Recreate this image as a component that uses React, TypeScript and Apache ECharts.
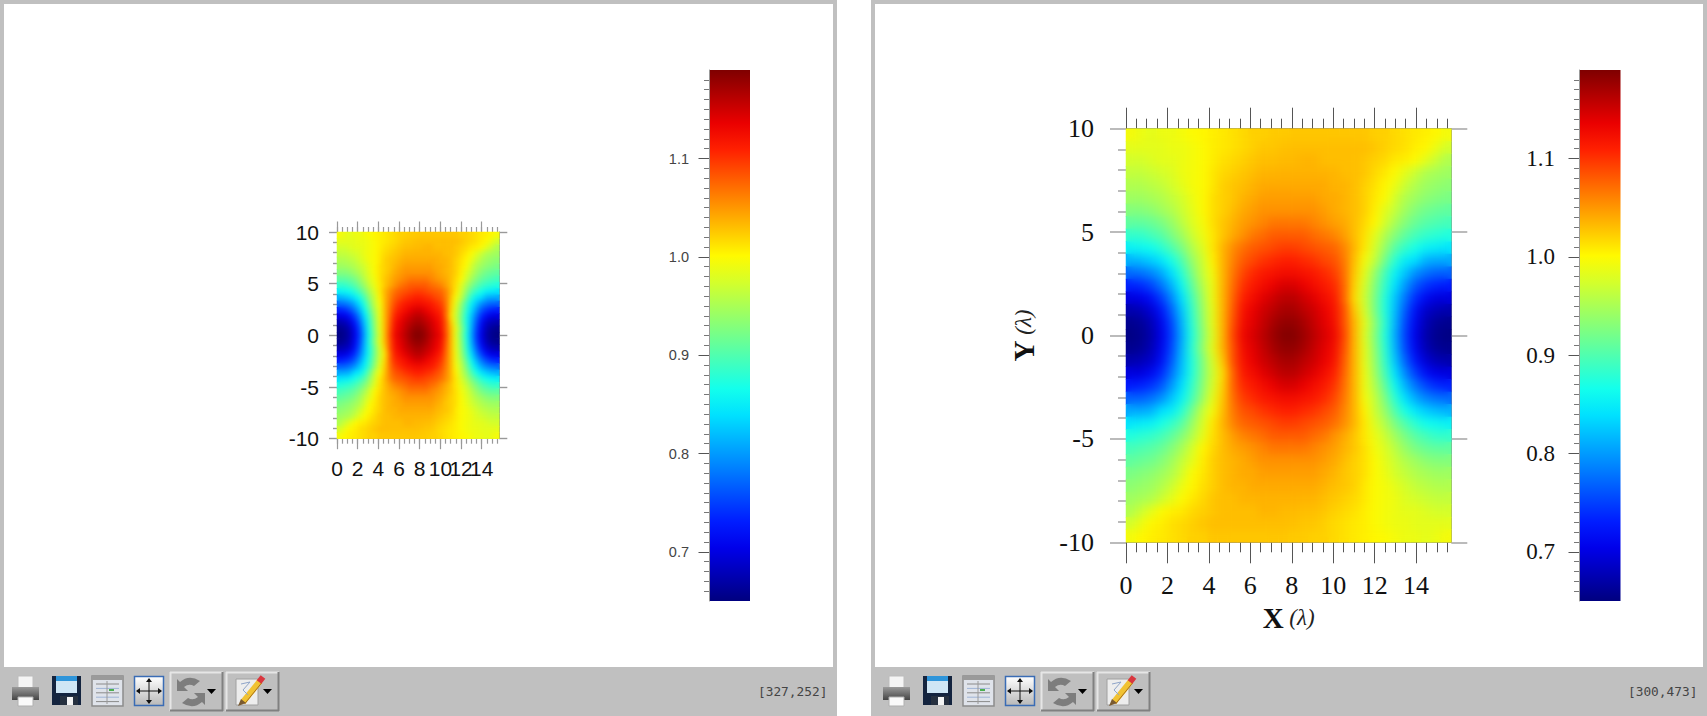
import React, { useEffect, useRef } from "react";
import * as echarts from "echarts";

const xMajorTicks = [0, 2, 4, 6, 8, 10, 12, 14];
const xSmallLabelsA = [0, 4, 8, 12];
const xSmallLabelsB = [2, 6, 10, 14];
const xMinorStep = 0.5;
const xLastMinor = 15.5;
const yMajorTicks = [-10, -5, 0, 5, 10];
const yMinorTicks = [-9, -8, -7, -6, -4, -3, -2, -1, 1, 2, 3, 4, 6, 7, 8, 9];
const barMajorTicks = [0.7, 0.8, 0.9, 1.0, 1.1];
const barMinorTicks = [0.66, 0.67, 0.68, 0.69, 0.71, 0.72, 0.73, 0.74, 0.75, 0.76, 0.77, 0.78, 0.79, 0.81, 0.82, 0.83, 0.84, 0.85, 0.86, 0.87, 0.88, 0.89, 0.91, 0.92, 0.93, 0.94, 0.95, 0.96, 0.97, 0.98, 0.99, 1.01, 1.02, 1.03, 1.04, 1.05, 1.06, 1.07, 1.08, 1.09, 1.11, 1.12, 1.13, 1.14, 1.15, 1.16, 1.17, 1.18];
const xMax = 15.7;
const yLimit = 10;
const valueMin = 0.652;
const valueMax = 1.19;
const leftCursor = "[327,252]";
const rightCursor = "[300,473]";

const jetColors = ["#00007F", "#0000B5", "#0000EA", "#001DFF", "#004EFF", "#0080FF", "#00B0FF", "#00E1FF", "#13FFEC", "#43FFBC", "#74FF8B", "#A4FF5B", "#D4FF2B", "#FFFA00", "#FFC300", "#FF8D00", "#FF5700", "#FF2000", "#EA0000", "#B50000", "#7F0000"];

// field: rows from y = +10 down to y = -10, columns from x = 0 to x = 15.7
const heatRows: number[][] = [
  [.995, .99, .985, .99, .99, .995, 1.0, 1.003, 1.007, 1.01, 1.014, 1.018, 1.022, 1.022, 1.025, 1.025, 1.027, 1.027, 1.027, 1.027, 1.027, 1.027, 1.027, 1.027, 1.022, 1.022, 1.018, 1.014, 1.01, 1.007, 1.003, .995],
  [.985, .985, .985, .985, .99, .99, .995, 1.0, 1.007, 1.01, 1.014, 1.018, 1.022, 1.027, 1.027, 1.03, 1.031, 1.031, 1.031, 1.031, 1.031, 1.031, 1.031, 1.031, 1.027, 1.022, 1.018, 1.014, 1.007, 1.003, .99, .975],
  [.975, .975, .98, .985, .985, .99, .995, 1.0, 1.007, 1.014, 1.018, 1.022, 1.027, 1.031, 1.031, 1.033, 1.033, 1.036, 1.036, 1.031, 1.031, 1.031, 1.031, 1.027, 1.022, 1.018, 1.01, 1.007, 1.0, .985, .97, .955],
  [.965, .965, .97, .975, .98, .99, .995, 1.0, 1.01, 1.018, 1.022, 1.027, 1.031, 1.036, 1.036, 1.037, 1.037, 1.037, 1.037, 1.036, 1.036, 1.031, 1.031, 1.027, 1.018, 1.01, 1.0, .985, .97, .955, .95, .945],
  [.955, .955, .96, .965, .975, .985, .995, 1.0, 1.01, 1.022, 1.027, 1.031, 1.036, 1.041, 1.041, 1.041, 1.041, 1.041, 1.041, 1.041, 1.036, 1.036, 1.031, 1.022, 1.014, 1.003, .99, .97, .955, .945, .94, .935],
  [.945, .945, .95, .955, .965, .975, .99, 1.0, 1.014, 1.022, 1.027, 1.036, 1.041, 1.047, 1.047, 1.047, 1.047, 1.047, 1.047, 1.041, 1.041, 1.036, 1.031, 1.022, 1.01, 1.0, .975, .955, .945, .935, .93, .925],
  [.93, .93, .935, .945, .955, .97, .985, 1.0, 1.014, 1.022, 1.031, 1.041, 1.047, 1.053, 1.053, 1.053, 1.053, 1.053, 1.053, 1.047, 1.041, 1.036, 1.031, 1.022, 1.007, .985, .965, .945, .93, .92, .915, .91],
  [.91, .91, .915, .925, .94, .96, .98, .995, 1.014, 1.027, 1.036, 1.047, 1.053, 1.06, 1.066, 1.066, 1.066, 1.066, 1.06, 1.053, 1.047, 1.041, 1.031, 1.018, 1.003, .975, .95, .93, .915, .905, .90, .895],
  [.885, .885, .895, .905, .925, .945, .97, .99, 1.01, 1.027, 1.041, 1.053, 1.066, 1.072, 1.08, 1.08, 1.08, 1.08, 1.072, 1.066, 1.06, 1.047, 1.031, 1.014, .985, .955, .93, .91, .895, .885, .88, .875],
  [.855, .86, .865, .88, .90, .925, .955, .98, 1.01, 1.035, 1.055, 1.07, 1.08, 1.085, 1.09, 1.095, 1.095, 1.09, 1.085, 1.08, 1.075, 1.06, 1.035, 1.01, .975, .94, .905, .885, .87, .855, .85, .845],
  [.815, .82, .83, .845, .87, .90, .94, .97, 1.005, 1.035, 1.06, 1.08, 1.09, 1.10, 1.105, 1.11, 1.11, 1.105, 1.10, 1.09, 1.085, 1.065, 1.03, .995, .965, .92, .88, .85, .84, .815, .81, .81],
  [.775, .78, .79, .81, .84, .88, .925, .965, .995, 1.035, 1.065, 1.09, 1.105, 1.115, 1.12, 1.125, 1.125, 1.12, 1.115, 1.105, 1.095, 1.07, 1.025, .985, .94, .895, .855, .825, .795, .78, .77, .77],
  [.735, .74, .755, .78, .815, .86, .91, .955, .99, 1.035, 1.07, 1.10, 1.115, 1.125, 1.135, 1.145, 1.145, 1.135, 1.125, 1.115, 1.105, 1.075, 1.02, .975, .93, .885, .84, .80, .765, .745, .735, .73],
  [.70, .705, .72, .75, .79, .84, .895, .945, .99, 1.035, 1.075, 1.11, 1.125, 1.14, 1.15, 1.16, 1.16, 1.15, 1.14, 1.125, 1.115, 1.075, 1.015, .97, .925, .875, .825, .78, .74, .715, .70, .70],
  [.675, .68, .695, .725, .77, .825, .885, .94, .985, 1.035, 1.08, 1.12, 1.135, 1.15, 1.16, 1.17, 1.17, 1.16, 1.15, 1.135, 1.12, 1.085, 1.025, .975, .925, .875, .82, .765, .72, .69, .68, .675],
  [.66, .665, .68, .71, .755, .815, .88, .935, .985, 1.035, 1.085, 1.125, 1.14, 1.155, 1.17, 1.18, 1.18, 1.17, 1.155, 1.14, 1.125, 1.085, 1.035, .985, .935, .88, .815, .755, .71, .68, .665, .66],
  [.655, .66, .675, .705, .75, .81, .875, .93, .98, 1.035, 1.09, 1.13, 1.145, 1.16, 1.175, 1.187, 1.187, 1.175, 1.16, 1.145, 1.13, 1.09, 1.035, .98, .93, .875, .81, .75, .705, .675, .66, .655],
  [.66, .665, .68, .71, .755, .815, .88, .935, .985, 1.035, 1.085, 1.125, 1.14, 1.155, 1.17, 1.18, 1.18, 1.17, 1.155, 1.14, 1.125, 1.085, 1.035, .985, .935, .88, .815, .755, .71, .68, .665, .66],
  [.675, .68, .69, .72, .765, .82, .875, .925, .975, 1.025, 1.085, 1.12, 1.135, 1.15, 1.16, 1.17, 1.17, 1.16, 1.15, 1.135, 1.12, 1.08, 1.035, .985, .94, .885, .825, .77, .725, .695, .68, .675],
  [.70, .70, .715, .74, .78, .825, .875, .925, .97, 1.015, 1.075, 1.115, 1.125, 1.14, 1.15, 1.16, 1.16, 1.15, 1.14, 1.125, 1.11, 1.075, 1.035, .99, .945, .895, .84, .79, .75, .72, .705, .70],
  [.73, .735, .745, .765, .80, .84, .885, .93, .975, 1.02, 1.075, 1.105, 1.115, 1.125, 1.135, 1.145, 1.145, 1.135, 1.125, 1.115, 1.10, 1.07, 1.035, .99, .955, .91, .86, .815, .78, .755, .74, .735],
  [.77, .77, .78, .795, .825, .855, .895, .94, .985, 1.025, 1.07, 1.095, 1.105, 1.115, 1.12, 1.125, 1.125, 1.12, 1.115, 1.105, 1.09, 1.065, 1.035, .995, .965, .925, .88, .84, .81, .79, .78, .775],
  [.81, .81, .815, .84, .85, .88, .92, .965, .995, 1.03, 1.065, 1.085, 1.09, 1.10, 1.105, 1.11, 1.11, 1.105, 1.10, 1.09, 1.08, 1.06, 1.035, 1.005, .97, .94, .90, .87, .845, .83, .82, .815],
  [.845, .85, .855, .87, .885, .905, .94, .975, 1.01, 1.035, 1.06, 1.075, 1.08, 1.085, 1.09, 1.095, 1.095, 1.09, 1.085, 1.08, 1.07, 1.055, 1.035, 1.01, .98, .955, .925, .90, .88, .865, .86, .855],
  [.875, .88, .885, .895, .91, .93, .955, .985, 1.014, 1.031, 1.047, 1.06, 1.066, 1.072, 1.08, 1.08, 1.08, 1.08, 1.072, 1.066, 1.053, 1.041, 1.027, 1.01, .99, .97, .945, .925, .905, .895, .885, .885],
  [.895, .90, .905, .915, .93, .95, .975, 1.003, 1.018, 1.031, 1.041, 1.047, 1.053, 1.06, 1.066, 1.066, 1.066, 1.066, 1.06, 1.053, 1.047, 1.036, 1.027, 1.014, .995, .98, .96, .94, .925, .915, .91, .91],
  [.91, .915, .92, .93, .945, .965, .985, 1.007, 1.022, 1.031, 1.036, 1.041, 1.047, 1.053, 1.053, 1.053, 1.053, 1.053, 1.053, 1.047, 1.041, 1.031, 1.022, 1.014, 1.0, .985, .97, .955, .945, .935, .93, .93],
  [.925, .93, .935, .945, .955, .975, 1.0, 1.01, 1.022, 1.031, 1.036, 1.041, 1.041, 1.047, 1.047, 1.047, 1.047, 1.047, 1.047, 1.041, 1.036, 1.027, 1.022, 1.014, 1.0, .99, .975, .965, .955, .95, .945, .945],
  [.935, .94, .945, .955, .97, .99, 1.003, 1.014, 1.022, 1.031, 1.036, 1.036, 1.041, 1.041, 1.041, 1.041, 1.041, 1.041, 1.041, 1.036, 1.031, 1.027, 1.022, 1.01, 1.0, .995, .985, .975, .965, .96, .955, .955],
  [.945, .95, .955, .97, .985, 1.0, 1.01, 1.018, 1.027, 1.031, 1.031, 1.036, 1.036, 1.037, 1.037, 1.037, 1.037, 1.036, 1.036, 1.031, 1.027, 1.022, 1.018, 1.01, 1.0, .995, .99, .98, .975, .97, .965, .965],
  [.955, .97, .985, 1.0, 1.007, 1.01, 1.018, 1.022, 1.027, 1.031, 1.031, 1.031, 1.031, 1.036, 1.036, 1.033, 1.033, 1.031, 1.031, 1.027, 1.022, 1.018, 1.014, 1.007, 1.0, .995, .99, .985, .985, .98, .975, .975],
  [.975, .99, 1.003, 1.007, 1.014, 1.018, 1.022, 1.027, 1.031, 1.031, 1.031, 1.031, 1.031, 1.031, 1.031, 1.031, 1.03, 1.027, 1.027, 1.022, 1.018, 1.014, 1.01, 1.007, 1.0, .995, .99, .99, .985, .985, .985, .985],
  [.995, 1.003, 1.007, 1.01, 1.014, 1.018, 1.022, 1.022, 1.027, 1.027, 1.027, 1.027, 1.027, 1.027, 1.027, 1.027, 1.025, 1.025, 1.022, 1.022, 1.018, 1.014, 1.01, 1.007, 1.003, 1.0, .995, .99, .99, .985, .99, .995],
];

const rowCount = heatRows.length;
const colNames = heatRows[0].map((_, i) => String(i));
const rowNames = heatRows.map((_, j) => String(j));
const heatCells: number[][] = [];
heatRows.forEach((row, j) => row.forEach((v, i) => heatCells.push([i, rowCount - 1 - j, v])));

const SERIF = '"Liberation Serif", serif';
const SANS = '"Liberation Sans", sans-serif';

const leftPlot = { left: 337, top: 232, width: 162.3, height: 206.7 };
const rightPlot = { left: 1126, top: 128.7, width: 325.3, height: 413.6 };
const leftBar = { left: 709, top: 70, width: 41, height: 531 };
const rightBar = { left: 1579, top: 70, width: 41.5, height: 531 };

echarts.graphic.registerShape(
  "syncArrows",
  echarts.graphic.extendPath("M0 2L0 14L11 14L7 10Q12 6 17 9L23 4Q12 -3 3 5Z M28 28L28 16L17 16L21 20Q16 24 11 21L5 26Q16 33 25 25Z", {}) as any
);

function plotAxes(big: boolean, gridIndex: number) {
  const labelFont = big ? SERIF : SANS;
  const fs = big ? 26 : 21;
  const xTick = big ? "#555" : "#999";
  const yTick = big ? "#aaa" : "#999";
  const yw = big ? 1.6 : 1.4;
  const xw = big ? 1 : 1.2;
  const k = big ? 2 : 1;
  const line = { show: true, onZero: false, lineStyle: { color: "#8a8a8a", width: 1 } };
  const base = { gridIndex, type: "value", splitLine: { show: false } };
  const X = { ...base, min: 0, max: xMax };
  const Y = { ...base, min: -yLimit, max: yLimit };
  const noLabel = { show: false };
  const lambda = "\u03BB";
  const rich = {
    a: { fontFamily: SERIF, fontSize: 29, color: "#111", fontWeight: "bold" },
    b: { fontFamily: SERIF, fontSize: 23, color: "#222", fontStyle: "italic" },
  };
  const xLabel = (values: number[]) => ({
    show: true, customValues: values, showMinLabel: true, showMaxLabel: true,
    margin: big ? 30 : 19, fontFamily: labelFont, fontSize: fs, color: "#111",
  });
  const xs: any[] = [
    {
      ...X, position: "bottom", axisLine: line,
      axisTick: { show: true, length: 10.5 * k, customValues: xMajorTicks, lineStyle: { color: xTick, width: xw } },
      axisLabel: xLabel(big ? xMajorTicks : xSmallLabelsA),
      ...(big ? { name: `{a|X}{b| (${lambda})}`, nameLocation: "middle", nameGap: 55, nameTextStyle: { rich } } : {}),
    },
    ...(big ? [] : [{ ...X, position: "bottom", axisLine: { show: false }, axisTick: { show: false }, axisLabel: xLabel(xSmallLabelsB) }]),
    { ...X, position: "top", axisLine: line, axisLabel: noLabel, axisTick: { show: true, length: 10.5 * k, customValues: xMajorTicks, lineStyle: { color: xTick, width: xw } } },
    { gridIndex, type: "category", show: false, data: colNames },
  ];
  const ys: any[] = [
    {
      ...Y, position: "left", axisLine: line,
      axisTick: { show: true, length: 8 * k, customValues: yMajorTicks, lineStyle: { color: yTick, width: yw } },
      axisLabel: { show: true, customValues: yMajorTicks, margin: big ? 32 : 18, fontFamily: labelFont, fontSize: fs, color: "#111" },
      ...(big ? { name: `{a|Y}{b| (${lambda})}`, nameLocation: "middle", nameGap: 88, nameRotate: 90, nameTextStyle: { rich } } : {}),
    },
    { ...Y, position: "left", axisLine: { show: false }, axisLabel: noLabel, axisTick: { show: true, length: 4 * k, customValues: yMinorTicks, lineStyle: { color: yTick, width: yw } } },
    { ...Y, position: "right", axisLine: line, axisLabel: noLabel, axisTick: { show: true, length: 8 * k, customValues: yMajorTicks, lineStyle: { color: yTick, width: yw } } },
    { ...Y, position: "right", axisLine: { show: false }, axisLabel: noLabel, axisTick: { show: true, length: 4 * k, customValues: yMinorTicks, lineStyle: { color: yTick, width: yw } } },
    { gridIndex, type: "category", show: false, data: rowNames },
  ];
  return { xs, ys };
}

function minorXAxes(big: boolean, gridIndex: number) {
  const base = {
    gridIndex, type: "value", min: 0, max: xLastMinor, interval: xMinorStep,
    splitLine: { show: false }, axisLine: { show: false }, axisLabel: { show: false },
    axisTick: { show: true, length: big ? 10 : 5, lineStyle: { color: big ? "#555" : "#999", width: big ? 1 : 1.2 } },
  };
  return {
    xs: [{ ...base, position: "bottom" }, { ...base, position: "top" }] as any[],
    ys: [{ gridIndex, type: "value", show: false, min: 0, max: 1 }] as any[],
  };
}

function barAxes(big: boolean, gridIndex: number) {
  const Y = { gridIndex, type: "value", min: 0.65, max: 1.19, position: "left", splitLine: { show: false } };
  const ys: any[] = [
    {
      ...Y,
      axisLine: { show: true, onZero: false, lineStyle: { color: "#999", width: 1 } },
      axisTick: { show: true, length: 10.5, customValues: barMajorTicks, lineStyle: { color: "#555", width: 1 } },
      axisLabel: {
        show: true, customValues: barMajorTicks, margin: big ? 24 : 20,
        formatter: (v: number) => v.toFixed(1),
        fontFamily: big ? SERIF : SANS, fontSize: big ? 23 : 14.5, color: big ? "#111" : "#444",
      },
    },
    { ...Y, axisLine: { show: false }, axisLabel: { show: false }, axisTick: { show: true, length: 5, customValues: barMinorTicks, lineStyle: { color: "#777", width: 1 } } },
  ];
  const xs: any[] = [{ gridIndex, type: "value", show: false, min: 0, max: 1 }];
  return { xs, ys };
}

function toolbarIcons(dx: number): any[] {
  const r = (x: number, y: number, w: number, h: number, fill: any, stroke?: string, lw = 1) =>
    ({ type: "rect", z: -5, silent: true, shape: { x: x + dx, y, width: w, height: h }, style: { fill, stroke: stroke || "none", lineWidth: lw } });
  const l = (x1: number, y1: number, x2: number, y2: number, stroke: string, lw = 1) =>
    ({ type: "line", z: -5, silent: true, shape: { x1: x1 + dx, y1, x2: x2 + dx, y2 }, style: { stroke, lineWidth: lw } });
  const p = (pts: number[][], fill: string) =>
    ({ type: "polygon", z: -5, silent: true, shape: { points: pts.map(([a, b]) => [a + dx, b]) }, style: { fill } });
  const vGrad = (a: string, b: string) => new echarts.graphic.LinearGradient(0, 0, 0, 1, [{ offset: 0, color: a }, { offset: 1, color: b }]);
  const out: any[] = [];
  // printer
  out.push(r(18, 676, 15, 12, "#f5f5f5", "#bdbdbd"));
  out.push(r(12, 687, 27, 13, vGrad("#9a9a9a", "#454545")));
  out.push(r(18, 697, 15, 9, "#fafafa", "#b0b0b0"));
  // floppy
  out.push(r(52, 676, 29, 29, "#14243f"));
  out.push(r(56, 676, 21, 5, "#2f95da"));
  out.push(r(56, 681, 21, 12, "#cfe6f5"));
  out.push(r(60, 696, 18, 9, "#26303f"));
  out.push(r(67, 697, 6, 8, "#f4f4f4"));
  // table
  out.push(r(92, 676, 31, 30, "#dfe3ea", "#8c8c8c", 1.5));
  out.push(r(92, 676, 31, 4, "#9a9a9a"));
  for (let i = 0; i < 5; i++) out.push(l(96, 684 + i * 4.4, 119, 684 + i * 4.4, i % 2 ? "#9fb4d6" : "#8a8a8a", 1));
  out.push(l(107, 681, 107, 704, "#9a9a9a", 1));
  out.push(r(109, 689, 5, 2, "#4caf50"));
  // fit-to-window arrows
  out.push(r(134.5, 676.5, 29, 29, vGrad("#ffffff", "#b8b8b8"), "#3a6cb5", 1.5));
  out.push(l(137, 691, 161, 691, "#111", 1));
  out.push(l(149, 679, 149, 703, "#111", 1));
  out.push(p([[136, 691], [140, 688], [140, 694]], "#111"));
  out.push(p([[162, 691], [158, 688], [158, 694]], "#111"));
  out.push(p([[149, 678], [146, 682], [152, 682]], "#111"));
  out.push(p([[149, 704], [146, 700], [152, 700]], "#111"));
  // raised buttons
  [[170, 53], [226, 53]].forEach(([x, w]) => {
    out.push(r(x, 672, w, 39, "#bfbfbf"));
    out.push(l(x, 672.5, x + w, 672.5, "#e6e6e6", 2));
    out.push(l(x + 0.5, 672, x + 0.5, 711, "#e6e6e6", 2));
    out.push(l(x, 710.5, x + w, 710.5, "#808080", 2));
    out.push(l(x + w - 0.5, 672, x + w - 0.5, 711, "#808080", 2));
  });
  out.push({ type: "syncArrows", z: -4, silent: true, x: 177 + dx, y: 677, style: { fill: "#7d7d7d" } });
  out.push(p([[207, 689], [216, 689], [211.5, 694]], "#000"));
  // pencil and page
  out.push(r(236, 679, 22, 26, "#ededed", "#a0a0a0"));
  out.push({ type: "polyline", z: -4, silent: true, shape: { points: [[241 + dx, 684], [250 + dx, 682], [243 + dx, 690], [248 + dx, 695]] }, style: { stroke: "#8ea4c8", lineWidth: 1, fill: "none" } });
  out.push(l(243, 702, 260, 681, "#f1c232", 6));
  out.push(l(244.5, 704, 261.5, 683, "#a8701a", 1));
  out.push(p([[238, 706], [241, 699], [246, 703]], "#7a5a30"));
  out.push(l(259, 682, 263, 677, "#d9363e", 6));
  out.push(p([[263, 689], [272, 689], [267.5, 694]], "#000"));
  return out;
}

function colorBar(bar: typeof leftBar): any {
  const last = jetColors.length - 1;
  return {
    type: "rect", z: -3, silent: true,
    shape: { x: bar.left, y: bar.top, width: bar.width, height: bar.height },
    style: {
      fill: new echarts.graphic.LinearGradient(0, 1, 0, 0, jetColors.map((color, i) => ({ offset: i / last, color }))),
    },
  };
}

function panel(x: number, width: number, cursor: string): any[] {
  return [
    { type: "rect", z: -9, silent: true, shape: { x, y: 0, width, height: 716 }, style: { fill: "#c0c0c0" } },
    { type: "rect", z: -8, silent: true, shape: { x: x + 4, y: 4, width: width - 8, height: 663 }, style: { fill: "#ffffff" } },
    ...toolbarIcons(x),
    { type: "text", z: -4, silent: true, x: x + width - 79, y: 685, style: { text: cursor, font: '12.8px "DejaVu Sans Mono", monospace', fill: "#444" } },
  ];
}

function buildMainOption() {
  const minorWidth = (w: number) => (w * xLastMinor) / xMax;
  const grids = [
    leftPlot, leftBar, rightPlot, rightBar,
    { ...leftPlot, width: minorWidth(leftPlot.width) },
    { ...rightPlot, width: minorWidth(rightPlot.width) },
  ].map((g) => ({ ...g, containLabel: false, show: false }));
  const a = plotAxes(false, 0);
  const b = barAxes(false, 1);
  const c = plotAxes(true, 2);
  const d = barAxes(true, 3);
  const e = minorXAxes(false, 4);
  const f = minorXAxes(true, 5);
  const xAxis = [...a.xs, ...b.xs, ...c.xs, ...d.xs, ...e.xs, ...f.xs];
  const yAxis = [...a.ys, ...b.ys, ...c.ys, ...d.ys, ...e.ys, ...f.ys];
  const catLeft = a.xs.length - 1;
  const catRight = a.xs.length + b.xs.length + c.xs.length - 1;
  const catLeftY = a.ys.length - 1;
  const catRightY = a.ys.length + b.ys.length + c.ys.length - 1;
  const heat = (xi: number, yi: number) => ({
    type: "heatmap", xAxisIndex: xi, yAxisIndex: yi, data: heatCells, silent: true, progressive: 0,
    itemStyle: { borderWidth: 0 }, emphasis: { disabled: true },
  });
  return {
    animation: false,
    backgroundColor: "#ffffff",
    grid: grids,
    xAxis,
    yAxis,
    series: [heat(catLeft, catLeftY), heat(catRight, catRightY)],
    visualMap: { show: false, seriesIndex: [0, 1], min: valueMin, max: valueMax, inRange: { color: jetColors } },
    graphic: { elements: [...panel(0, 837, leftCursor), ...panel(871, 836, rightCursor), colorBar(leftBar), colorBar(rightBar)] },
  };
}

function buildSoftOption() {
  return {
    animation: false,
    grid: { left: 0, right: 0, top: 0, bottom: 0 },
    xAxis: { type: "category", show: false, data: colNames },
    yAxis: { type: "category", show: false, data: rowNames },
    visualMap: { show: false, min: valueMin, max: valueMax, inRange: { color: jetColors } },
    series: [{ type: "heatmap", data: heatCells, silent: true, progressive: 0, itemStyle: { borderWidth: 0 }, emphasis: { disabled: true } }],
  };
}

function SoftHeat({ rect, blur }: { rect: { left: number; top: number; width: number; height: number }; blur: number }) {
  const ref = useRef<HTMLDivElement>(null);
  useEffect(() => {
    const chart = echarts.init(ref.current!, undefined, { renderer: "svg", width: rect.width, height: rect.height });
    chart.setOption(buildSoftOption() as any);
    return () => chart.dispose();
  }, []);
  return (
    <div style={{ position: "absolute", left: rect.left + 1, top: rect.top + 0.5, width: rect.width - 1.5, height: rect.height - 1, overflow: "hidden" }}>
      <div ref={ref} style={{ position: "absolute", left: -1, top: -0.5, width: rect.width, height: rect.height, filter: `blur(${blur}px)` }} />
    </div>
  );
}

export default function App() {
  const ref = useRef<HTMLDivElement>(null);
  useEffect(() => {
    document.body.style.margin = "0";
    const chart = echarts.init(ref.current!, undefined, { renderer: "svg", width: 1707, height: 716 });
    chart.setOption(buildMainOption() as any);
    return () => chart.dispose();
  }, []);
  return (
    <div style={{ position: "fixed", left: 0, top: 0, width: 1707, height: 716, overflow: "hidden", background: "#fff" }}>
      <div ref={ref} style={{ position: "absolute", left: 0, top: 0, width: 1707, height: 716 }} />
      <SoftHeat rect={leftPlot} blur={2.5} />
      <SoftHeat rect={rightPlot} blur={5} />
    </div>
  );
}
